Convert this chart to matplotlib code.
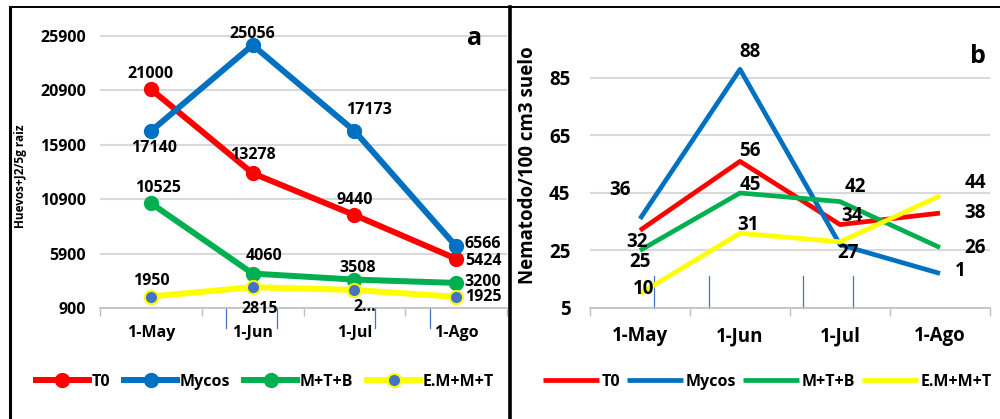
import matplotlib.pyplot as plt
from matplotlib.lines import Line2D

plt.rcParams['font.family'] = ['Open Sans', 'DejaVu Sans']
plt.rcParams['font.weight'] = 'bold'

fechas = ['1-May', '1-Jun', '1-Jul', '1-Ago']
series = ['T0', 'Mycos', 'M+T+B', 'E.M+M+T']
colores = ['#FF0000', '#0070C0', '#00B050', '#FFFF00']

# a) huevos + J2 por 5 g de raiz
raiz_t0 = [21000, 13278, 9440, 5424]
raiz_mycos = [17140, 25056, 17173, 6566]
raiz_mtb = [10525, 4060, 3508, 3200]
raiz_emmt = [1950, 2815, 2550, 1925]
raiz_etq_emmt = ['1950', '2815', '2...', '1925']

# b) nematodos por 100 cm3 de suelo
suelo_t0 = [32, 56, 34, 38]
suelo_mycos = [36, 88, 27, 17]
suelo_mtb = [25, 45, 42, 26]
suelo_emmt = [10, 31, 28, 44]
suelo_etq_mycos = ['36', '88', '27', '1']
suelo_etq_emmt = ['10', '31', '', '44']

fig = plt.figure(figsize=(10, 4.19), dpi=100)

# marcos de los paneles
fig.add_artist(Line2D([0.010, 0.010], [0, 0.983], color='black', lw=2.2))
fig.add_artist(Line2D([0.010, 1.0], [0.983, 0.983], color='black', lw=1.4))
fig.add_artist(Line2D([0.510, 0.510], [0, 0.983], color='black', lw=2.6))

px = 0.72  # pixeles a puntos


def base(ax, yt, ylim, fs_tick, fs_x, pad_x, pad_y):
    ax.set_xlim(-0.5, 3.5)
    ax.set_ylim(*ylim)
    ax.set_yticks(yt)
    ax.set_yticklabels([str(v) for v in yt], fontsize=fs_tick, fontweight='bold')
    ax.set_xticks(range(4))
    ax.set_xticklabels(fechas, fontsize=fs_x, fontweight='bold')
    ax.set_xticks([-0.5, 0.5, 1.5, 2.5, 3.5], minor=True)
    ax.tick_params(axis='x', which='major', length=0, pad=pad_x)
    ax.tick_params(axis='x', which='minor', length=6, color='#BFBFBF', width=1)
    ax.tick_params(axis='y', length=0, pad=pad_y)
    ax.grid(axis='y', color='#D9D9D9', lw=1.5)
    ax.set_axisbelow(True)
    for s in ['top', 'right', 'left']:
        ax.spines[s].set_visible(False)
    ax.spines['bottom'].set_color('#BFBFBF')
    ax.spines['bottom'].set_linewidth(1.2)


def etiquetas(ax, vals, textos, offs, fs):
    for i, (v, t) in enumerate(zip(vals, textos)):
        ax.annotate(t, (i, v), xytext=(offs[i][0] * px, offs[i][1] * px),
                    textcoords='offset points', ha='center', va='center',
                    fontsize=fs, fontweight='bold', annotation_clip=False)


# ---- panel a ----
ax = fig.add_axes([0.100, 0.265, 0.407, 0.678])
base(ax, [900, 5900, 10900, 15900, 20900, 25900], (900, 27000), 11.5, 11.5, 12, 10)
x = range(4)
datos_a = [raiz_t0, raiz_mycos, raiz_mtb, raiz_emmt]
for vals, nom, c in zip(datos_a, series, colores):
    if nom == 'E.M+M+T':
        ax.plot(x, vals, '-o', color=c, lw=4.3, ms=9.5, mfc='#4472C4', mec=c,
                mew=1.5, label=nom, clip_on=False, zorder=3)
    else:
        ax.plot(x, vals, '-o', color=c, lw=4.3, ms=10, label=nom,
                clip_on=False, zorder=3)

fs_a = 11.5
etiquetas(ax, raiz_t0, [str(v) for v in raiz_t0],
          [(0, 15), (0, 18), (0, 15), (27, -2)], fs_a)
etiquetas(ax, raiz_mycos, [str(v) for v in raiz_mycos],
          [(3, -17), (0, 11), (15, 21), (27, 2)], fs_a)
etiquetas(ax, raiz_mtb, [str(v) for v in raiz_mtb],
          [(7, 15), (12, 18), (3, 12), (27, 1)], fs_a)
etiquetas(ax, raiz_emmt, raiz_etq_emmt,
          [(0, 16), (7, -22), (10, -17), (27, 0)], fs_a)

# rayas azules sueltas bajo el eje
for xv in [0.737, 1.238, 2.20, 2.74]:
    ax.plot([xv, xv], [0, -0.07], color='#4472C4', lw=0.9,
            transform=ax.get_xaxis_transform(), clip_on=False)

ax.text(0.92, 0.95, 'a', transform=ax.transAxes, fontsize=18,
        fontweight='bold', ha='center', va='center')
fig.text(0.021, 0.58, 'Huevos+J2/5g raiz', rotation=90, fontsize=8.5,
         fontweight='bold', ha='center', va='center')
ax.legend(loc='center', bbox_to_anchor=(0.405, -0.26), ncol=4, frameon=False,
          prop={'size': 11.5, 'weight': 'bold'}, handlelength=3.3,
          handletextpad=0.15, columnspacing=0.9)

# ---- panel b ----
bx = fig.add_axes([0.590, 0.265, 0.400, 0.6175])
base(bx, [5, 25, 45, 65, 85], (5, 95), 13.5, 13.5, 13, 14)
datos_b = [suelo_t0, suelo_mycos, suelo_mtb, suelo_emmt]
for vals, nom, c in zip(datos_b, series, colores):
    bx.plot(x, vals, '-', color=c, lw=3.4, label=nom, clip_on=False, zorder=3,
            solid_capstyle='butt')

fs_b = 13.5
etiquetas(bx, suelo_t0, [str(v) for v in suelo_t0],
          [(-3, -12), (10, 10), (12, 9), (35, 0)], fs_b)
etiquetas(bx, suelo_mycos, suelo_etq_mycos,
          [(-20, 29), (10, 17), (8, -8), (20, 2)], fs_b)
etiquetas(bx, suelo_mtb, [str(v) for v in suelo_mtb],
          [(0, -12), (10, 8), (15, 15), (35, 0)], fs_b)
etiquetas(bx, suelo_emmt, suelo_etq_emmt,
          [(4, 5), (8, 8), (0, 0), (35, 13)], fs_b)

for xv in [0.14, 0.69, 1.63, 2.13]:
    bx.plot([xv, xv], [5, 16], color='#4472C4', lw=0.9, clip_on=False)

bx.text(0.97, 0.97, 'b', transform=bx.transAxes, fontsize=18,
        fontweight='bold', ha='center', va='center')
fig.text(0.528, 0.605, 'Nematodo/100 cm3 suelo', rotation=90, fontsize=13.5,
         fontweight='bold', ha='center', va='center')
bx.legend(loc='center', bbox_to_anchor=(0.444, -0.286), ncol=4, frameon=False,
          prop={'size': 11.5, 'weight': 'bold'}, handlelength=3.5,
          handletextpad=0.2, columnspacing=0.4)

fig.savefig('out.png', dpi=100)
